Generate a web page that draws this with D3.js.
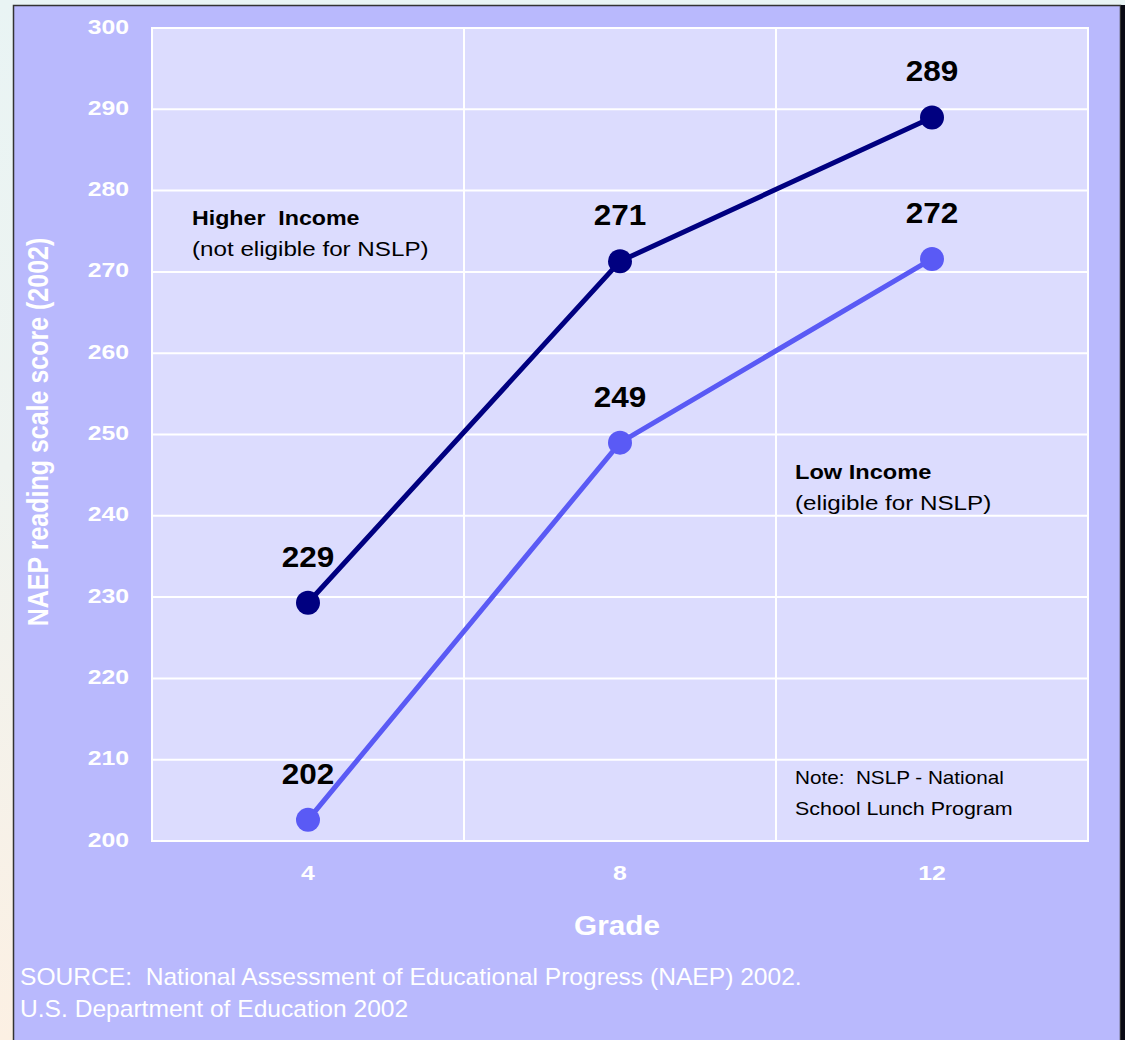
<!DOCTYPE html>
<html>
<head>
<meta charset="utf-8">
<script src="https://cdn.jsdelivr.net/npm/d3@7"></script>
<style>
  html, body { margin: 0; padding: 0; background: #e9f4f4; }
  svg { display: block; font-family: "Liberation Sans", Arial, sans-serif; }
</style>
</head>
<body>
<script>
const grades = ["4", "8", "12"];
const higherIncome = [229.3, 271.3, 289.0];
const higherLabels = ["229", "271", "289"];
const lowIncome = [202.6, 249.0, 271.6];
const lowLabels = ["202", "249", "272"];
const yTicks = [200, 210, 220, 230, 240, 250, 260, 270, 280, 290, 300];

const W = 1125, H = 1040;
const svg = d3.select("body").append("svg").attr("width", W).attr("height", H);

// page edge gradient (left strip)
const defs = svg.append("defs");
const lg = defs.append("linearGradient").attr("id", "edge").attr("x1", 0).attr("y1", 0).attr("x2", 0).attr("y2", 1);
lg.append("stop").attr("offset", "0%").attr("stop-color", "#e9f4f4");
lg.append("stop").attr("offset", "45%").attr("stop-color", "#eef3f0");
lg.append("stop").attr("offset", "100%").attr("stop-color", "#fcf0e3");
svg.append("rect").attr("x", 0).attr("y", 0).attr("width", W).attr("height", H).attr("fill", "url(#edge)");

// outer panel
svg.append("rect").attr("x", 13.5).attr("y", 5.5).attr("width", 1107).attr("height", 1040)
  .attr("fill", "#b9b9fd").attr("stroke", "#333333").attr("stroke-width", 1.5);
svg.append("rect").attr("x", 1121).attr("y", 5).attr("width", 4).attr("height", H).attr("fill", "#0a0a14");

const plot = { left: 152, top: 28, right: 1088, bottom: 841 };

const x = d3.scaleBand().domain(grades).range([plot.left, plot.right]);
const y = d3.scaleLinear().domain([200, 300]).range([plot.bottom, plot.top]);

// plot area
svg.append("rect").attr("x", plot.left).attr("y", plot.top)
  .attr("width", plot.right - plot.left).attr("height", plot.bottom - plot.top)
  .attr("fill", "#dcdcfe").attr("stroke", "#ffffff").attr("stroke-width", 2);

// horizontal gridlines
svg.append("g").selectAll("line").data(yTicks).join("line")
  .attr("x1", plot.left).attr("x2", plot.right)
  .attr("y1", d => y(d)).attr("y2", d => y(d))
  .attr("stroke", "#ffffff").attr("stroke-width", 2);

// vertical gridlines between bands
svg.append("g").selectAll("line").data(grades.slice(1)).join("line")
  .attr("x1", d => x(d)).attr("x2", d => x(d))
  .attr("y1", plot.top).attr("y2", plot.bottom)
  .attr("stroke", "#ffffff").attr("stroke-width", 2);

const SX = 1.18; // horizontal stretch seen in the reference text

// y axis
const yAxis = d3.axisLeft(y).tickValues(yTicks).tickSize(0).tickPadding(0);
const gy = svg.append("g").attr("transform", `translate(129,0)`).call(yAxis);
gy.select(".domain").remove();
gy.selectAll("text").attr("x", 0).attr("fill", "#ffffff").attr("font-size", 21).attr("font-weight", "bold")
  .attr("font-family", "Liberation Sans, Arial, sans-serif").attr("dy", "0.24em")
  .attr("transform", `scale(${SX},1)`);

// x axis
const xAxis = d3.axisBottom(x).tickSize(0).tickPadding(0);
const gx = svg.append("g").attr("transform", `translate(0,865)`).call(xAxis);
gx.select(".domain").remove();
gx.selectAll("text").attr("y", 0).attr("fill", "#ffffff").attr("font-size", 21).attr("font-weight", "bold")
  .attr("font-family", "Liberation Sans, Arial, sans-serif").attr("dy", "0.73em")
  .attr("transform", `scale(${SX},1)`);

// axis titles
svg.append("text").attr("transform", "translate(617,935) scale(1.1,1)").attr("text-anchor", "middle")
  .attr("fill", "#ffffff").attr("font-size", 27).attr("font-weight", "bold").text("Grade");
svg.append("text").attr("transform", "translate(48,432) scale(1.2,1) rotate(-90)").attr("text-anchor", "middle")
  .attr("fill", "#ffffff").attr("font-size", 25).attr("font-weight", "bold")
  .text("NAEP reading scale score (2002)");

// source
svg.append("text").attr("transform", "translate(20,985) scale(1.07,1)").attr("fill", "#ffffff").attr("font-size", 23)
  .style("white-space", "pre")
  .text("SOURCE:  National Assessment of Educational Progress (NAEP) 2002.");
svg.append("text").attr("transform", "translate(20,1017) scale(1.07,1)").attr("fill", "#ffffff").attr("font-size", 23)
  .text("U.S. Department of Education 2002");

const cx = d => x(d) + x.bandwidth() / 2;
const line = d3.line().x((d, i) => cx(grades[i])).y(d => y(d));

const series = [
  { values: lowIncome, labels: lowLabels, color: "#5a5af5" },
  { values: higherIncome, labels: higherLabels, color: "#000080" }
];

series.forEach(s => {
  svg.append("path").datum(s.values).attr("d", line).attr("fill", "none")
    .attr("stroke", s.color).attr("stroke-width", 5);
  svg.append("g").selectAll("circle").data(s.values).join("circle")
    .attr("cx", (d, i) => cx(grades[i])).attr("cy", d => y(d)).attr("r", 12)
    .attr("fill", s.color);
  svg.append("g").selectAll("text").data(s.values).join("text")
    .attr("transform", (d, i) => `translate(${cx(grades[i])},${y(d) - 36}) scale(1.05,1)`)
    .attr("text-anchor", "middle").attr("font-size", 30).attr("font-weight", "bold")
    .attr("fill", "#000000").text((d, i) => s.labels[i]);
});

// annotations
function note(xp, yp, lines) {
  lines.forEach((l, i) => {
    svg.append("text").attr("transform", `translate(${xp},${yp + i * l.dy}) scale(${l.sx},1)`)
      .attr("fill", "#000000")
      .attr("font-size", l.size).attr("font-weight", l.bold ? "bold" : "normal")
      .style("white-space", "pre").text(l.t);
  });
}
note(192, 225, [{ t: "Higher  Income", bold: true, size: 20, dy: 31, sx: 1.16 }, { t: "(not eligible for NSLP)", size: 20, dy: 31, sx: 1.21 }]);
note(795, 479, [{ t: "Low Income", bold: true, size: 20, dy: 31, sx: 1.18 }, { t: "(eligible for NSLP)", size: 20, dy: 31, sx: 1.21 }]);
note(795, 784, [{ t: "Note:  NSLP - National", size: 18, dy: 31, sx: 1.15 }, { t: "School Lunch Program", size: 18, dy: 31, sx: 1.19 }]);
</script>
</body>
</html>
